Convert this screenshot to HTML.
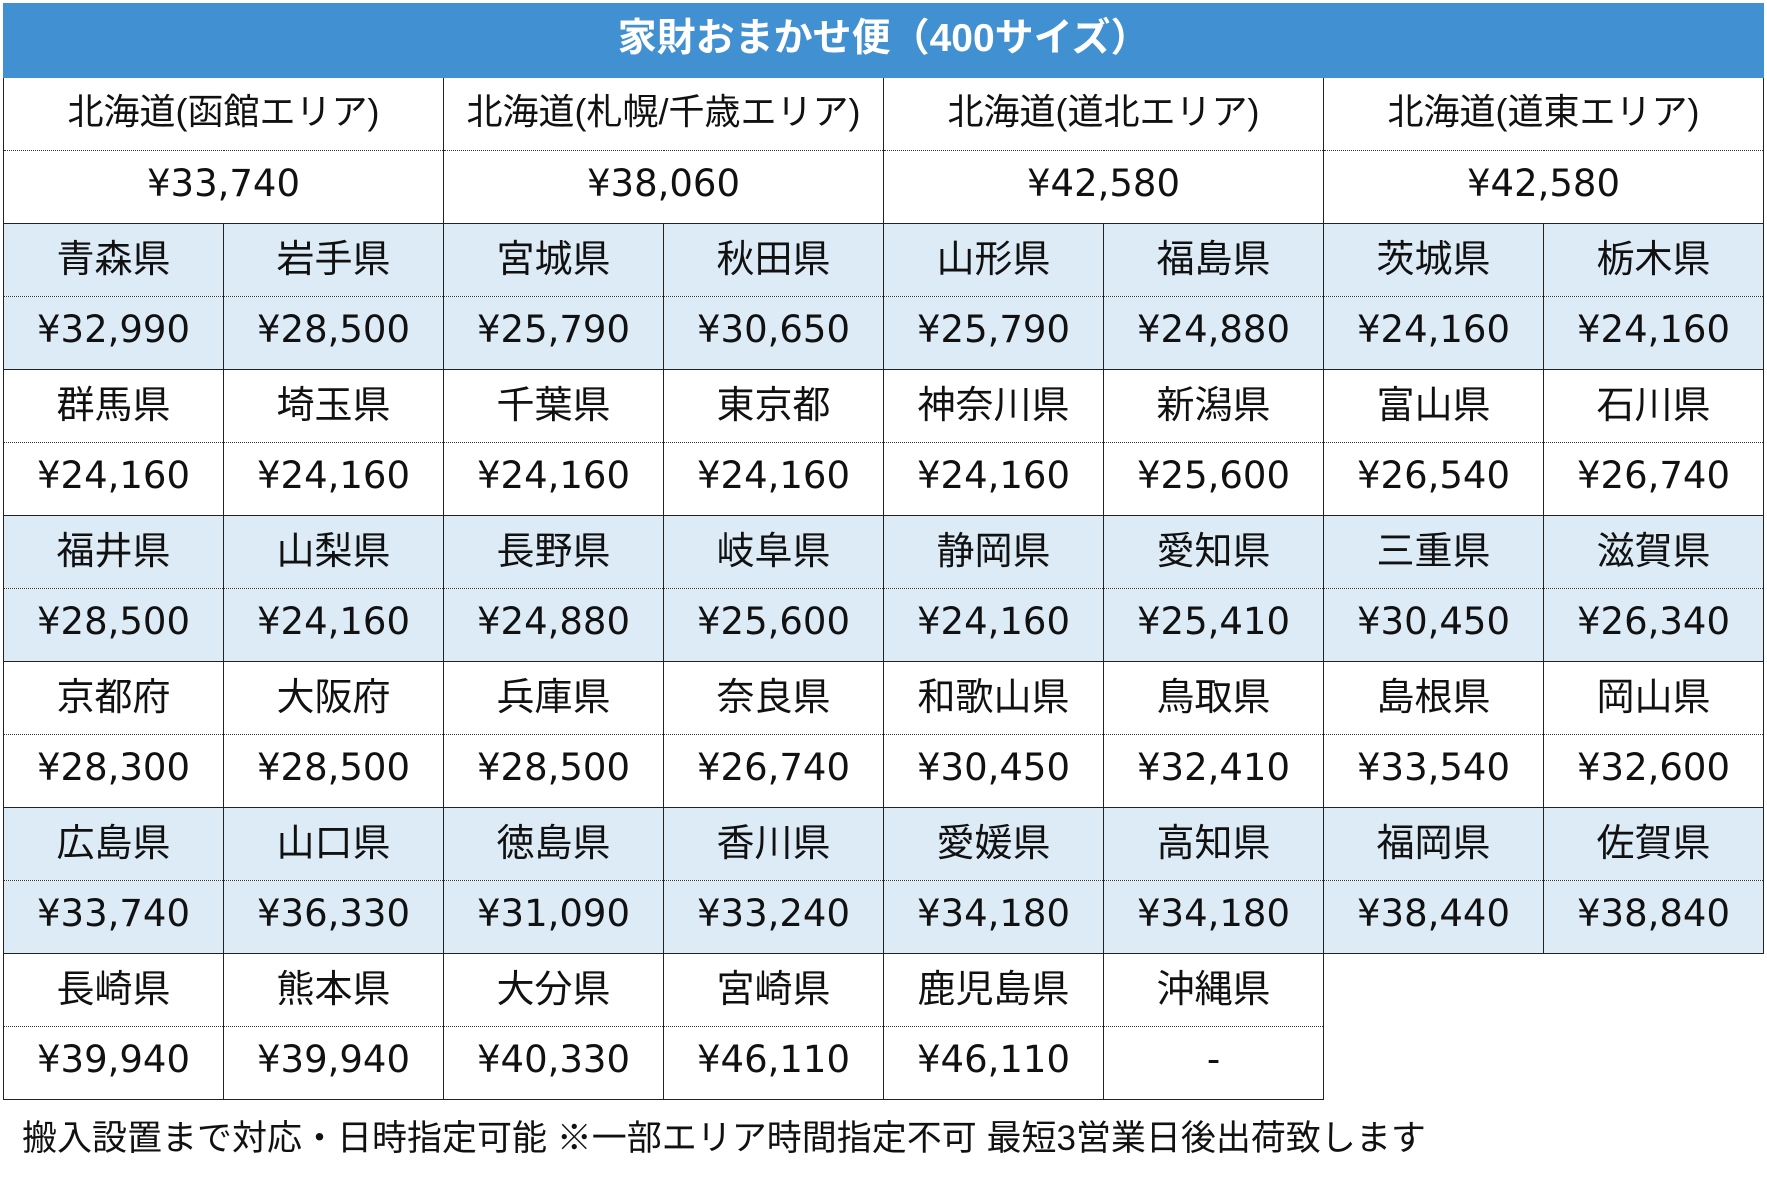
<!DOCTYPE html>
<html><head><meta charset="utf-8">
<style>
html,body{margin:0;padding:0;background:#fff;width:1767px;height:1204px;overflow:hidden}
body{font-family:"Liberation Sans","Noto Sans CJK JP",sans-serif;color:#111}
table{position:absolute;left:3px;top:3px;border-collapse:collapse;table-layout:fixed;width:1760px}
td{border:1px solid #222;text-align:center;padding:0 0 10px 0;height:62px;font-size:38px;white-space:nowrap;overflow:hidden;box-sizing:content-box}
td.a{font-size:36px}
td.p{font-family:"DejaVu Sans","Noto Sans CJK JP",sans-serif;font-size:37px;padding-bottom:8px;height:64px}
tr.n td{border-bottom:1px dotted #333}
tr.v td{border-top:1px dotted #333}
tr.b td{background:#ddebf7}
th{background:#4190d2;color:#fff;font-size:39px;font-weight:bold;height:61px;padding:0 0 12px 0;border:1px solid #4190d2}
td.e{border:none !important;background:#fff !important}
.f{position:absolute;left:22px;top:1110px;font-size:35px;white-space:nowrap}
</style></head><body>
<table>
<colgroup><col span="8" style="width:220px"></colgroup>
<tr><th colspan="8">家財おまかせ便（400サイズ）</th></tr>
<tr class="n"><td colspan="2" class="a">北海道(函館エリア)</td><td colspan="2" class="a">北海道(札幌/千歳エリア)</td><td colspan="2" class="a">北海道(道北エリア)</td><td colspan="2" class="a">北海道(道東エリア)</td></tr>
<tr class="v"><td colspan="2" class="p">¥33,740</td><td colspan="2" class="p">¥38,060</td><td colspan="2" class="p">¥42,580</td><td colspan="2" class="p">¥42,580</td></tr>
<tr class="n b"><td>青森県</td><td>岩手県</td><td>宮城県</td><td>秋田県</td><td>山形県</td><td>福島県</td><td>茨城県</td><td>栃木県</td></tr>
<tr class="v b"><td class="p">¥32,990</td><td class="p">¥28,500</td><td class="p">¥25,790</td><td class="p">¥30,650</td><td class="p">¥25,790</td><td class="p">¥24,880</td><td class="p">¥24,160</td><td class="p">¥24,160</td></tr>
<tr class="n"><td>群馬県</td><td>埼玉県</td><td>千葉県</td><td>東京都</td><td>神奈川県</td><td>新潟県</td><td>富山県</td><td>石川県</td></tr>
<tr class="v"><td class="p">¥24,160</td><td class="p">¥24,160</td><td class="p">¥24,160</td><td class="p">¥24,160</td><td class="p">¥24,160</td><td class="p">¥25,600</td><td class="p">¥26,540</td><td class="p">¥26,740</td></tr>
<tr class="n b"><td>福井県</td><td>山梨県</td><td>長野県</td><td>岐阜県</td><td>静岡県</td><td>愛知県</td><td>三重県</td><td>滋賀県</td></tr>
<tr class="v b"><td class="p">¥28,500</td><td class="p">¥24,160</td><td class="p">¥24,880</td><td class="p">¥25,600</td><td class="p">¥24,160</td><td class="p">¥25,410</td><td class="p">¥30,450</td><td class="p">¥26,340</td></tr>
<tr class="n"><td>京都府</td><td>大阪府</td><td>兵庫県</td><td>奈良県</td><td>和歌山県</td><td>鳥取県</td><td>島根県</td><td>岡山県</td></tr>
<tr class="v"><td class="p">¥28,300</td><td class="p">¥28,500</td><td class="p">¥28,500</td><td class="p">¥26,740</td><td class="p">¥30,450</td><td class="p">¥32,410</td><td class="p">¥33,540</td><td class="p">¥32,600</td></tr>
<tr class="n b"><td>広島県</td><td>山口県</td><td>徳島県</td><td>香川県</td><td>愛媛県</td><td>高知県</td><td>福岡県</td><td>佐賀県</td></tr>
<tr class="v b"><td class="p">¥33,740</td><td class="p">¥36,330</td><td class="p">¥31,090</td><td class="p">¥33,240</td><td class="p">¥34,180</td><td class="p">¥34,180</td><td class="p">¥38,440</td><td class="p">¥38,840</td></tr>
<tr class="n"><td>長崎県</td><td>熊本県</td><td>大分県</td><td>宮崎県</td><td>鹿児島県</td><td>沖縄県</td><td class="e"></td><td class="e"></td></tr>
<tr class="v"><td class="p">¥39,940</td><td class="p">¥39,940</td><td class="p">¥40,330</td><td class="p">¥46,110</td><td class="p">¥46,110</td><td class="p">-</td><td class="e"></td><td class="e"></td></tr>
</table>
<div class="f">搬入設置まで対応・日時指定可能 ※一部エリア時間指定不可 最短3営業日後出荷致します</div>
</body></html>
